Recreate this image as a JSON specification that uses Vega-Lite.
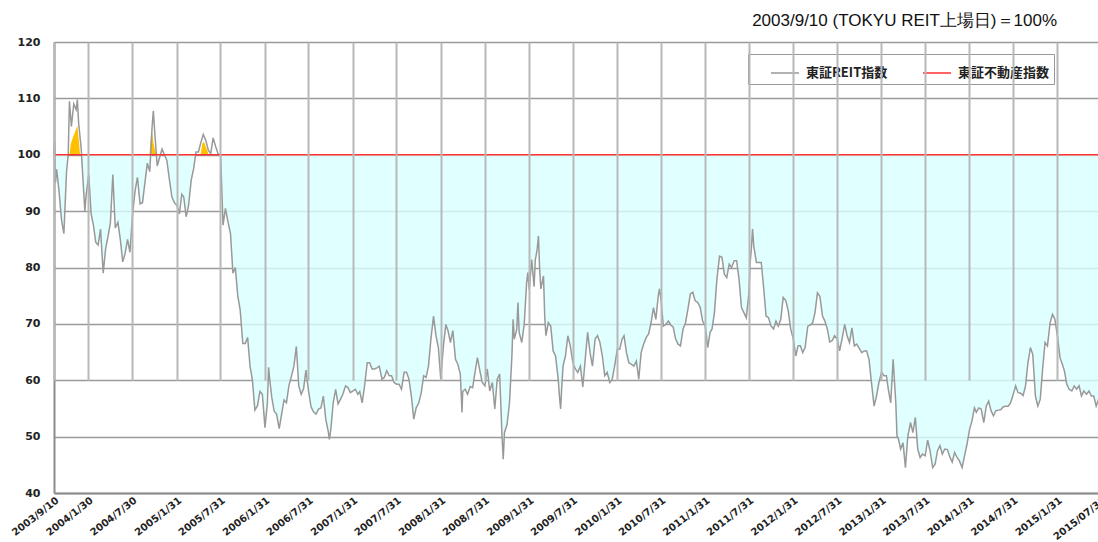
{
  "$schema": "https://vega.github.io/schema/vega-lite/v6.json",
  "width": 1044,
  "height": 451,
  "autosize": {"type": "none"},
  "padding": {"left": 54, "top": 42, "right": 0, "bottom": 49},
  "background": "white",
  "config": {
    "view": {"stroke": null},
    "legend": {
      "orient": "none",
      "legendX": 694,
      "legendY": 12,
      "direction": "horizontal",
      "symbolType": "stroke",
      "symbolSize": 784,
      "symbolStrokeWidth": 1.5,
      "symbolOffset": 18,
      "labelFont": "Noto Sans CJK JP",
      "labelFontWeight": "bold",
      "labelFontSize": 13,
      "labelColor": "#222",
      "labelOffset": 6,
      "columnPadding": 16,
      "padding": 4,
      "strokeColor": "#999",
      "fillColor": "white"
    }
  },
  "title": {
    "text": "2003/9/10 (TOKYU REIT上場日)＝100%",
    "font": "Liberation Sans",
    "fontSize": 17,
    "fontWeight": "normal",
    "color": "#111",
    "anchor": "end",
    "frame": "group",
    "offset": 6,
    "dx": -41
  },
  "datasets": {
    "reit": [
      {"date":"2003-09-10","v":100},{"date":"2003-09-13","v":102.2},{"date":"2003-09-16","v":95},{"date":"2003-09-21","v":97.4},
      {"date":"2003-10-01","v":93.5},{"date":"2003-10-11","v":88.5},{"date":"2003-10-21","v":86},
      {"date":"2003-11-01","v":97},{"date":"2003-11-08","v":100},{"date":"2003-11-13","v":109.5},{"date":"2003-11-21","v":105},
      {"date":"2003-12-01","v":109},{"date":"2003-12-11","v":108},{"date":"2003-12-16","v":109.8},{"date":"2003-12-21","v":105.7},
      {"date":"2004-01-01","v":101},{"date":"2004-01-11","v":93.5},{"date":"2004-01-16","v":90},{"date":"2004-01-21","v":92.7},
      {"date":"2004-02-01","v":96.5},{"date":"2004-02-11","v":89.5},{"date":"2004-02-21","v":87.4},
      {"date":"2004-03-01","v":84.5},{"date":"2004-03-11","v":84},{"date":"2004-03-21","v":86.8},
      {"date":"2004-04-01","v":79},{"date":"2004-04-11","v":83.3},{"date":"2004-04-21","v":85.5},
      {"date":"2004-05-01","v":88},{"date":"2004-05-11","v":96.5},{"date":"2004-05-21","v":87},
      {"date":"2004-06-01","v":88},{"date":"2004-06-11","v":85},{"date":"2004-06-21","v":81},
      {"date":"2004-07-01","v":82.5},{"date":"2004-07-11","v":85},{"date":"2004-07-21","v":82.7},
      {"date":"2004-08-01","v":89.5},{"date":"2004-08-11","v":93.5},{"date":"2004-08-21","v":96},
      {"date":"2004-09-01","v":91.3},{"date":"2004-09-11","v":91.5},{"date":"2004-09-21","v":95},
      {"date":"2004-10-01","v":98.5},{"date":"2004-10-11","v":97},{"date":"2004-10-21","v":105},{"date":"2004-10-26","v":107.8},
      {"date":"2004-11-01","v":103.9},{"date":"2004-11-11","v":98},{"date":"2004-11-21","v":99.5},
      {"date":"2004-12-01","v":101},{"date":"2004-12-11","v":100},{"date":"2004-12-21","v":99},
      {"date":"2005-01-01","v":95.5},{"date":"2005-01-11","v":92.5},{"date":"2005-01-21","v":91.5},
      {"date":"2005-02-01","v":91},{"date":"2005-02-11","v":89.5},{"date":"2005-02-21","v":93},
      {"date":"2005-03-01","v":92.5},{"date":"2005-03-11","v":89},{"date":"2005-03-21","v":91},
      {"date":"2005-04-01","v":95.5},{"date":"2005-04-11","v":97.5},{"date":"2005-04-21","v":100.5},
      {"date":"2005-05-01","v":100.5},{"date":"2005-05-11","v":102.2},{"date":"2005-05-21","v":103.6},
      {"date":"2005-06-01","v":102.5},{"date":"2005-06-11","v":100.8},{"date":"2005-06-21","v":100.2},
      {"date":"2005-07-01","v":103},{"date":"2005-07-11","v":101.5},{"date":"2005-07-21","v":100.2},
      {"date":"2005-08-01","v":99.8},{"date":"2005-08-11","v":87.5},{"date":"2005-08-21","v":90.5},
      {"date":"2005-09-01","v":88},{"date":"2005-09-11","v":86},{"date":"2005-09-21","v":79},
      {"date":"2005-10-01","v":80},{"date":"2005-10-11","v":75},{"date":"2005-10-21","v":72.5},
      {"date":"2005-11-01","v":66.5},{"date":"2005-11-11","v":66.5},{"date":"2005-11-21","v":67.6},
      {"date":"2005-12-01","v":62.5},{"date":"2005-12-11","v":60},{"date":"2005-12-21","v":54.7},
      {"date":"2006-01-01","v":55.5},{"date":"2006-01-11","v":58},{"date":"2006-01-21","v":57.5},
      {"date":"2006-02-01","v":51.6},{"date":"2006-02-11","v":56},{"date":"2006-02-16","v":62.3},{"date":"2006-02-21","v":60},
      {"date":"2006-03-01","v":57},{"date":"2006-03-11","v":54.5},{"date":"2006-03-21","v":54},
      {"date":"2006-04-01","v":51.4},{"date":"2006-04-11","v":54},{"date":"2006-04-21","v":56.5},
      {"date":"2006-05-01","v":56},{"date":"2006-05-11","v":59},{"date":"2006-05-21","v":60.6},
      {"date":"2006-06-01","v":62.5},{"date":"2006-06-11","v":66},{"date":"2006-06-21","v":59},
      {"date":"2006-07-01","v":57.5},{"date":"2006-07-11","v":58.5},{"date":"2006-07-21","v":61.8},
      {"date":"2006-08-01","v":58},{"date":"2006-08-11","v":55.3},{"date":"2006-08-21","v":54.4},
      {"date":"2006-09-01","v":54},{"date":"2006-09-11","v":54.9},{"date":"2006-09-21","v":55.1},
      {"date":"2006-10-01","v":57.2},{"date":"2006-10-11","v":53.1},{"date":"2006-10-21","v":51},{"date":"2006-10-26","v":49.5},
      {"date":"2006-11-01","v":51.3},{"date":"2006-11-11","v":56},{"date":"2006-11-21","v":58.4},
      {"date":"2006-12-01","v":55.8},{"date":"2006-12-11","v":56.6},{"date":"2006-12-21","v":57.5},
      {"date":"2007-01-01","v":59},{"date":"2007-01-11","v":58.7},{"date":"2007-01-21","v":57.8},
      {"date":"2007-02-01","v":58.1},{"date":"2007-02-11","v":58.4},{"date":"2007-02-21","v":57.5},
      {"date":"2007-03-01","v":58},{"date":"2007-03-11","v":56},{"date":"2007-03-21","v":59},
      {"date":"2007-04-01","v":63.1},{"date":"2007-04-11","v":63.1},{"date":"2007-04-21","v":62},
      {"date":"2007-05-01","v":62},{"date":"2007-05-11","v":62.2},{"date":"2007-05-21","v":62.5},
      {"date":"2007-06-01","v":60.2},{"date":"2007-06-11","v":60.5},{"date":"2007-06-21","v":61.7},
      {"date":"2007-07-01","v":60.8},{"date":"2007-07-11","v":60.8},{"date":"2007-07-21","v":59.6},
      {"date":"2007-08-01","v":59.3},{"date":"2007-08-11","v":59.3},{"date":"2007-08-21","v":58.4},
      {"date":"2007-09-01","v":61.4},{"date":"2007-09-11","v":61.4},{"date":"2007-09-21","v":60.2},
      {"date":"2007-10-01","v":57.2},{"date":"2007-10-11","v":53.1},{"date":"2007-10-21","v":55.1},
      {"date":"2007-11-01","v":56},{"date":"2007-11-11","v":57.8},{"date":"2007-11-21","v":60.8},
      {"date":"2007-12-01","v":60.5},{"date":"2007-12-11","v":62.5},{"date":"2007-12-21","v":67.3},
      {"date":"2008-01-01","v":71.4},{"date":"2008-01-11","v":67.9},{"date":"2008-01-21","v":65.8},{"date":"2008-01-31","v":60.2},
      {"date":"2008-02-11","v":66.1},{"date":"2008-02-21","v":69.9},
      {"date":"2008-03-01","v":68.8},{"date":"2008-03-11","v":66.7},{"date":"2008-03-21","v":68.8},
      {"date":"2008-04-01","v":63.7},{"date":"2008-04-11","v":62.8},{"date":"2008-04-21","v":61.1},{"date":"2008-04-28","v":54.3},
      {"date":"2008-05-01","v":58},{"date":"2008-05-11","v":58.4},{"date":"2008-05-21","v":57.5},
      {"date":"2008-06-01","v":58.9},{"date":"2008-06-11","v":58.7},{"date":"2008-06-21","v":61.4},
      {"date":"2008-07-01","v":64},{"date":"2008-07-11","v":61.7},{"date":"2008-07-21","v":59.6},
      {"date":"2008-08-01","v":59},{"date":"2008-08-11","v":62},{"date":"2008-08-21","v":58.1},
      {"date":"2008-09-01","v":59.6},{"date":"2008-09-11","v":54.9},{"date":"2008-09-21","v":60.2},
      {"date":"2008-10-01","v":61.1},{"date":"2008-10-11","v":50.1},{"date":"2008-10-16","v":46},{"date":"2008-10-21","v":50.7},
      {"date":"2008-11-01","v":52.2},{"date":"2008-11-11","v":56},{"date":"2008-11-21","v":64.3},{"date":"2008-11-26","v":70.8},
      {"date":"2008-12-01","v":67.3},{"date":"2008-12-11","v":69},{"date":"2008-12-16","v":73.8},{"date":"2008-12-21","v":68.5},
      {"date":"2009-01-01","v":66.7},{"date":"2009-01-11","v":69.9},{"date":"2009-01-21","v":77.3},{"date":"2009-01-26","v":79.1},
      {"date":"2009-02-01","v":76},{"date":"2009-02-11","v":81.4},{"date":"2009-02-21","v":76.6},{"date":"2009-02-26","v":81.4},
      {"date":"2009-03-01","v":82},{"date":"2009-03-06","v":83.3},{"date":"2009-03-11","v":85.6},{"date":"2009-03-16","v":79.7},{"date":"2009-03-21","v":76.2},
      {"date":"2009-04-01","v":78.5},{"date":"2009-04-06","v":71.4},{"date":"2009-04-11","v":67.9},{"date":"2009-04-21","v":70.2},
      {"date":"2009-05-01","v":69.6},{"date":"2009-05-11","v":65.2},{"date":"2009-05-21","v":64.3},
      {"date":"2009-06-01","v":60.2},{"date":"2009-06-06","v":57.2},{"date":"2009-06-11","v":54.9},{"date":"2009-06-16","v":59},{"date":"2009-06-21","v":62.5},
      {"date":"2009-07-01","v":64.3},{"date":"2009-07-11","v":67.9},{"date":"2009-07-21","v":66.1},
      {"date":"2009-08-01","v":63.1},{"date":"2009-08-11","v":62},{"date":"2009-08-21","v":61.4},
      {"date":"2009-09-01","v":62.5},{"date":"2009-09-11","v":58.8},{"date":"2009-09-21","v":63.7},
      {"date":"2009-10-01","v":68.5},{"date":"2009-10-11","v":64.9},{"date":"2009-10-21","v":62.5},
      {"date":"2009-11-01","v":67.3},{"date":"2009-11-11","v":67.9},{"date":"2009-11-21","v":66.7},
      {"date":"2009-12-01","v":64.3},{"date":"2009-12-11","v":60.8},{"date":"2009-12-21","v":61.4},
      {"date":"2010-01-01","v":59.6},{"date":"2010-01-11","v":60.2},{"date":"2010-01-21","v":62.5},
      {"date":"2010-02-01","v":65.5},{"date":"2010-02-11","v":65.5},{"date":"2010-02-21","v":67.3},
      {"date":"2010-03-01","v":67.9},{"date":"2010-03-11","v":64.9},{"date":"2010-03-21","v":63.1},
      {"date":"2010-04-01","v":62.8},{"date":"2010-04-11","v":62.5},{"date":"2010-04-21","v":63.4},
      {"date":"2010-05-01","v":60.2},{"date":"2010-05-11","v":64.9},{"date":"2010-05-21","v":66.4},
      {"date":"2010-06-01","v":67.6},{"date":"2010-06-11","v":68.2},{"date":"2010-06-21","v":70.2},
      {"date":"2010-07-01","v":72.9},{"date":"2010-07-11","v":70.8},{"date":"2010-07-21","v":75},{"date":"2010-07-26","v":76.2},
      {"date":"2010-08-01","v":74.4},{"date":"2010-08-11","v":69.6},{"date":"2010-08-21","v":69.9},
      {"date":"2010-09-01","v":70.5},{"date":"2010-09-11","v":69.8},{"date":"2010-09-21","v":69.4},
      {"date":"2010-10-01","v":67.3},{"date":"2010-10-11","v":66.4},{"date":"2010-10-21","v":66.1},
      {"date":"2010-11-01","v":69.1},{"date":"2010-11-11","v":70.2},{"date":"2010-11-21","v":72.6},
      {"date":"2010-12-01","v":75.3},{"date":"2010-12-11","v":75.6},{"date":"2010-12-21","v":74.1},
      {"date":"2011-01-01","v":73.8},{"date":"2011-01-11","v":72.9},{"date":"2011-01-21","v":70.5},
      {"date":"2011-02-01","v":69.6},{"date":"2011-02-11","v":65.8},{"date":"2011-02-21","v":68.5},
      {"date":"2011-03-01","v":69.1},{"date":"2011-03-11","v":72},{"date":"2011-03-21","v":77.9},
      {"date":"2011-04-01","v":82},{"date":"2011-04-11","v":81.8},{"date":"2011-04-21","v":78.8},
      {"date":"2011-05-01","v":78.2},{"date":"2011-05-11","v":80.6},{"date":"2011-05-21","v":80},
      {"date":"2011-06-01","v":81.2},{"date":"2011-06-11","v":81.2},{"date":"2011-06-21","v":77.9},
      {"date":"2011-07-01","v":72.9},{"date":"2011-07-11","v":72},{"date":"2011-07-21","v":71.1},
      {"date":"2011-08-01","v":75.5},{"date":"2011-08-06","v":80.9},{"date":"2011-08-11","v":83.3},{"date":"2011-08-16","v":86.8},{"date":"2011-08-21","v":83.8},
      {"date":"2011-09-01","v":80.9},{"date":"2011-09-11","v":80.9},{"date":"2011-09-21","v":80.9},
      {"date":"2011-10-01","v":76.4},{"date":"2011-10-11","v":71.4},{"date":"2011-10-21","v":71.1},
      {"date":"2011-11-01","v":69.6},{"date":"2011-11-11","v":69.1},{"date":"2011-11-21","v":70.5},
      {"date":"2011-12-01","v":69.6},{"date":"2011-12-11","v":70.8},{"date":"2011-12-21","v":74.7},
      {"date":"2012-01-01","v":74.1},{"date":"2012-01-11","v":72.3},{"date":"2012-01-21","v":69.1},
      {"date":"2012-02-01","v":67.3},{"date":"2012-02-11","v":64.3},{"date":"2012-02-21","v":66.1},
      {"date":"2012-03-01","v":66.1},{"date":"2012-03-11","v":64.9},{"date":"2012-03-21","v":65.8},
      {"date":"2012-04-01","v":69.6},{"date":"2012-04-11","v":69.8},{"date":"2012-04-21","v":70.2},
      {"date":"2012-05-01","v":72},{"date":"2012-05-11","v":75.5},{"date":"2012-05-21","v":74.9},
      {"date":"2012-06-01","v":71.4},{"date":"2012-06-11","v":70.5},{"date":"2012-06-21","v":69.1},
      {"date":"2012-07-01","v":66.8},{"date":"2012-07-11","v":67},{"date":"2012-07-21","v":67.9},
      {"date":"2012-08-01","v":67.3},{"date":"2012-08-11","v":65.2},{"date":"2012-08-21","v":67.3},
      {"date":"2012-09-01","v":69.9},{"date":"2012-09-11","v":67.9},{"date":"2012-09-21","v":66.7},
      {"date":"2012-10-01","v":69.3},{"date":"2012-10-11","v":66.1},{"date":"2012-10-21","v":66.4},
      {"date":"2012-11-01","v":65.6},{"date":"2012-11-11","v":64.9},{"date":"2012-11-21","v":65.2},
      {"date":"2012-12-01","v":65.2},{"date":"2012-12-11","v":63.7},{"date":"2012-12-21","v":59.6},
      {"date":"2013-01-01","v":55.4},{"date":"2013-01-11","v":57.2},{"date":"2013-01-21","v":59.6},
      {"date":"2013-02-01","v":61.4},{"date":"2013-02-11","v":60.8},{"date":"2013-02-21","v":60.8},
      {"date":"2013-03-01","v":58.4},{"date":"2013-03-11","v":56},{"date":"2013-03-21","v":63.7},
      {"date":"2013-04-01","v":56},{"date":"2013-04-06","v":50.1},{"date":"2013-04-11","v":49.8},{"date":"2013-04-21","v":47.8},
      {"date":"2013-05-01","v":48.9},{"date":"2013-05-11","v":44.5},{"date":"2013-05-21","v":50.1},
      {"date":"2013-06-01","v":52.5},{"date":"2013-06-11","v":50.7},{"date":"2013-06-21","v":53.4},
      {"date":"2013-07-01","v":47.8},{"date":"2013-07-11","v":46.3},{"date":"2013-07-21","v":46.9},
      {"date":"2013-08-01","v":46.6},{"date":"2013-08-11","v":49.4},{"date":"2013-08-21","v":47.5},
      {"date":"2013-09-01","v":44.5},{"date":"2013-09-11","v":45.1},{"date":"2013-09-21","v":47.5},
      {"date":"2013-10-01","v":48.4},{"date":"2013-10-11","v":46.9},{"date":"2013-10-21","v":47.8},
      {"date":"2013-11-01","v":47.7},{"date":"2013-11-11","v":46.4},{"date":"2013-11-21","v":45.5},
      {"date":"2013-12-01","v":47.2},{"date":"2013-12-11","v":46.3},{"date":"2013-12-21","v":45.7},
      {"date":"2014-01-01","v":44.5},{"date":"2014-01-11","v":46.6},{"date":"2014-01-21","v":48.6},
      {"date":"2014-02-01","v":51.3},{"date":"2014-02-11","v":52.8},{"date":"2014-02-21","v":55.1},
      {"date":"2014-03-01","v":54.3},{"date":"2014-03-11","v":55.1},{"date":"2014-03-21","v":54.9},
      {"date":"2014-04-01","v":52.5},{"date":"2014-04-11","v":55.4},{"date":"2014-04-21","v":56.3},
      {"date":"2014-05-01","v":54.6},{"date":"2014-05-11","v":53.7},{"date":"2014-05-21","v":54.6},
      {"date":"2014-06-01","v":54.7},{"date":"2014-06-11","v":54.8},{"date":"2014-06-21","v":55.3},
      {"date":"2014-07-01","v":55.4},{"date":"2014-07-11","v":55.4},{"date":"2014-07-21","v":56},
      {"date":"2014-08-01","v":57.5},{"date":"2014-08-11","v":59},{"date":"2014-08-21","v":57.8},
      {"date":"2014-09-01","v":57.7},{"date":"2014-09-11","v":57.3},{"date":"2014-09-21","v":59},
      {"date":"2014-10-01","v":63.1},{"date":"2014-10-08","v":64.9},{"date":"2014-10-11","v":65.8},{"date":"2014-10-21","v":64.6},
      {"date":"2014-11-01","v":57.2},{"date":"2014-11-11","v":55.4},{"date":"2014-11-21","v":56.6},
      {"date":"2014-12-01","v":62},{"date":"2014-12-11","v":66.7},{"date":"2014-12-21","v":66.1},
      {"date":"2015-01-01","v":70.2},{"date":"2015-01-11","v":71.7},{"date":"2015-01-21","v":70.8},
      {"date":"2015-02-01","v":67.6},{"date":"2015-02-11","v":64},{"date":"2015-02-21","v":62.8},
      {"date":"2015-03-01","v":61.7},{"date":"2015-03-11","v":59.3},{"date":"2015-03-21","v":58.4},
      {"date":"2015-04-01","v":58.1},{"date":"2015-04-11","v":59},{"date":"2015-04-21","v":58.4},
      {"date":"2015-05-01","v":59},{"date":"2015-05-11","v":57.2},{"date":"2015-05-21","v":58.1},
      {"date":"2015-06-01","v":57.5},{"date":"2015-06-11","v":58.1},{"date":"2015-06-21","v":57.2},
      {"date":"2015-07-01","v":57.2},{"date":"2015-07-11","v":55.4},{"date":"2015-07-21","v":56.6},{"date":"2015-07-31","v":56.5}
    ],
    "orange": [
      {"date":"2003-11-13","v":100},{"date":"2003-11-19","v":102},{"date":"2003-11-29","v":103.3},{"date":"2003-12-06","v":104},
      {"date":"2003-12-16","v":105.2},{"date":"2003-12-22","v":102.5},{"date":"2003-12-27","v":100},
      {"date":"2004-10-10","v":100},{"date":"2004-10-18","v":104.8},{"date":"2004-10-27","v":102},{"date":"2004-11-03","v":100.6},{"date":"2004-11-12","v":100},
      {"date":"2005-05-10","v":100},{"date":"2005-05-17","v":102},{"date":"2005-05-24","v":102.3},{"date":"2005-06-02","v":101.3},{"date":"2005-06-13","v":100}
    ],
    "fudosan": [
      {"date":"2003-09-10","v":100},{"date":"2015-07-31","v":100}
    ]
  },
  "resolve": {"scale": {"y": "independent"}},
  "layer": [
    {
      "data": {"name": "reit"},
      "mark": {"type": "area", "color": "#d8ffff", "opacity": 0.8},
      "encoding": {
        "x": {
          "field": "date", "type": "temporal",
          "scale": {"type": "utc", "domain": [{"year": 2003, "month": 9, "date": 10, "utc": true}, {"year": 2015, "month": 7, "date": 31, "utc": true}], "range": [0, 1047], "nice": false},
          "axis": {
            "title": null,
            "values": [
              {"year": 2003, "month": 9, "date": 10, "utc": true},
              {"year": 2004, "month": 1, "date": 30, "utc": true},
              {"year": 2004, "month": 7, "date": 30, "utc": true},
              {"year": 2005, "month": 1, "date": 31, "utc": true},
              {"year": 2005, "month": 7, "date": 31, "utc": true},
              {"year": 2006, "month": 1, "date": 31, "utc": true},
              {"year": 2006, "month": 7, "date": 31, "utc": true},
              {"year": 2007, "month": 1, "date": 31, "utc": true},
              {"year": 2007, "month": 7, "date": 31, "utc": true},
              {"year": 2008, "month": 1, "date": 31, "utc": true},
              {"year": 2008, "month": 7, "date": 31, "utc": true},
              {"year": 2009, "month": 1, "date": 31, "utc": true},
              {"year": 2009, "month": 7, "date": 31, "utc": true},
              {"year": 2010, "month": 1, "date": 31, "utc": true},
              {"year": 2010, "month": 7, "date": 31, "utc": true},
              {"year": 2011, "month": 1, "date": 31, "utc": true},
              {"year": 2011, "month": 7, "date": 31, "utc": true},
              {"year": 2012, "month": 1, "date": 31, "utc": true},
              {"year": 2012, "month": 7, "date": 31, "utc": true},
              {"year": 2013, "month": 1, "date": 31, "utc": true},
              {"year": 2013, "month": 7, "date": 31, "utc": true},
              {"year": 2014, "month": 1, "date": 31, "utc": true},
              {"year": 2014, "month": 7, "date": 31, "utc": true},
              {"year": 2015, "month": 1, "date": 31, "utc": true},
              {"year": 2015, "month": 7, "date": 31, "utc": true}
            ],
            "labelExpr": "utcyear(datum.value) == 2015 && utcmonth(datum.value) == 6 ? '2015/07/31' : utcFormat(datum.value, '%Y/%-m/%-d')",
            "labelAngle": -38,
            "labelFont": "DejaVu Sans",
            "labelFontWeight": "bold",
            "labelFontSize": 10,
            "labelColor": "#222",
            "labelPadding": 2,
            "labelOverlap": false,
            "labelFlush": false,
            "labelBound": false,
            "ticks": false,
            "grid": true,
            "gridColor": "#b8b8b8",
            "gridWidth": 2,
            "domainColor": "#8c8c8c",
            "domainWidth": 2,
            "zindex": 1
          }
        },
        "y": {"field": "v", "type": "quantitative", "scale": {"domain": [40, 100], "range": [451, 112.75], "clamp": true, "nice": false, "zero": false}, "axis": null},
        "y2": {"datum": 100}
      }
    },
    {
      "data": {"name": "orange"},
      "mark": {"type": "area", "color": "#ffc000"},
      "encoding": {
        "x": {"field": "date", "type": "temporal"},
        "y": {"field": "v", "type": "quantitative", "scale": {"domain": [40, 120], "nice": false, "zero": false}, "axis": null},
        "y2": {"datum": 100}
      }
    },
    {
      "data": {"name": "reit"},
      "mark": {"type": "line", "strokeWidth": 1.5},
      "encoding": {
        "x": {"field": "date", "type": "temporal"},
        "y": {
          "field": "v", "type": "quantitative",
          "scale": {"domain": [40, 120], "nice": false, "zero": false},
          "axis": {
            "title": null,
            "values": [40, 50, 60, 70, 80, 90, 100, 110, 120],
            "labelFont": "DejaVu Sans",
            "labelFontWeight": "bold",
            "labelFontSize": 11,
            "labelColor": "#222",
            "labelPadding": 14,
            "ticks": false,
            "grid": true,
            "gridColor": "#9a9a9a",
            "gridWidth": 1.5,
            "domainColor": "#8c8c8c",
            "domainWidth": 2
          }
        },
        "color": {
          "datum": "東証REIT指数",
          "type": "nominal",
          "scale": {"domain": ["東証REIT指数", "東証不動産指数"], "range": ["#999999", "#ff3030"]},
          "legend": {"title": null}
        }
      }
    },
    {
      "data": {"name": "fudosan"},
      "mark": {"type": "line", "strokeWidth": 1.5},
      "encoding": {
        "x": {"field": "date", "type": "temporal"},
        "y": {"field": "v", "type": "quantitative", "scale": {"domain": [40, 120], "nice": false, "zero": false}, "axis": null},
        "color": {"datum": "東証不動産指数", "type": "nominal"}
      }
    }
  ]
}
